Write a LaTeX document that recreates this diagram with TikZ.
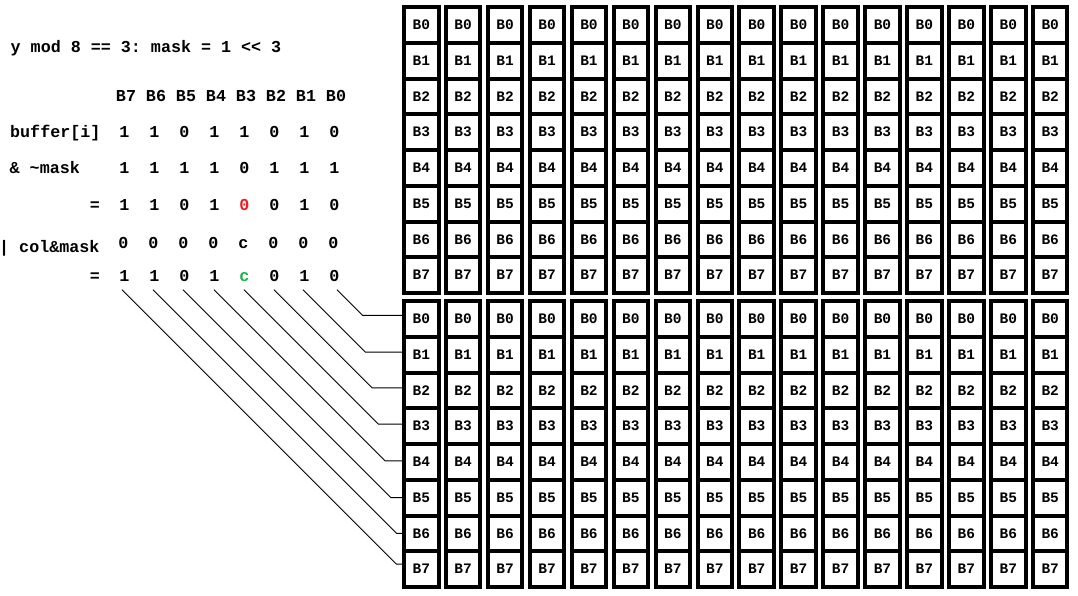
\documentclass[tikz,border=0pt]{standalone}
\usepackage{fontspec}
\newfontfamily\monof{Liberation Mono}
\usetikzlibrary{calc}
\definecolor{pred}{RGB}{237,28,36}
\definecolor{pgreen}{RGB}{34,177,76}
\newcommand{\lefttext}{\monof\bfseries\fontsize{16.7}{20}\selectfont\frenchspacing}
\newcommand{\gridtext}{\monof\bfseries\fontsize{14.5}{16}\selectfont}
\begin{document}
\begin{tikzpicture}[x=1pt,y=-1pt,
  lbl/.style={font=\lefttext, inner sep=0pt, anchor=base west},
  val/.style={font=\lefttext, inner sep=0pt, anchor=base},
  cell/.style={draw, line width=4pt, minimum width=34.5pt, minimum height=35.75pt, inner sep=0pt, font=\gridtext},
  conn/.style={line width=0.9pt}]
\useasboundingbox[fill=white] (0,0) rectangle (1078,596);

% memory grid: two pages of 8 rows, 16 columns
\foreach \c in {0,...,15} {
  \foreach \r in {0,...,7} {
    \node[cell] (t-\c-\r) at ({421.25+41.93*\c},{24.9+35.75*\r}) {B\r};
    \node[cell] (b-\c-\r) at ({421.25+41.93*\c},{318.9+35.75*\r}) {B\r};
  }
}

% left-hand text
\node[lbl] (title) at (10.5,52.5) {y mod 8 == 3: mask = 1 {<}{<} 3};
\foreach \b [count=\i from 0] in {7,6,5,4,3,2,1,0}
  \node[val] (h-\b) at ({126+30*\i},101.7) {B\b};

\node[lbl] (buf) at (10,137.5) {buffer[i]};
\foreach \v [count=\i from 0] in {1,1,0,1,1,0,1,0}
  \node[val] (bu-\i) at ({124.5+30*\i},137.5) {\v};

\node[lbl] (nmask) at (9.5,173.5) {\& \textasciitilde mask};
\foreach \v [count=\i from 0] in {1,1,1,1,0,1,1,1}
  \node[val] (nm-\i) at ({124.5+30*\i},173.5) {\v};

\node[val] (eq1) at (95,210) {=};
\foreach \v [count=\i from 0] in {1,1,0,1,{\textcolor{pred}{0}},0,1,0}
  \node[val] (an-\i) at ({124.5+30*\i},210) {\v};

\node[lbl] (colm) at (-1,252) {| col\&mask};
\foreach \v [count=\i from 0] in {0,0,0,0,c,0,0,0}
  \node[val] (cm-\i) at ({123.5+30*\i},248.3) {\v};

\node[val] (eq2) at (95,281.7) {=};
\foreach \v/\k [count=\i from 0] in {1/7,1/6,0/5,1/4,{\textcolor{pgreen}{c}}/3,0/2,1/1,0/0}
  \node[val] (fin-\k) at ({124.5+30*\i},281.7) {\v};

% connectors from result bits to the rows of the lower page
\foreach \k/\dx/\off in {0/2.5/3.5, 1/-1.5/2.5, 2/-0.5/2.5, 3/-0.5/2, 4/-0.5/1, 5/-1.5/0, 6/-1.5/0, 7/-2.5/5} {
  \coordinate (s-\k) at ($(fin-\k.base)+(\dx,8)$);
  \draw[conn] let \p1=(s-\k), \p2=([yshift=\off pt]b-0-\k.west) in
    (\p1) -- ({\x1+(\y1)-(\y2)},\y2) -- (\p2);
}
\end{tikzpicture}
\end{document}
